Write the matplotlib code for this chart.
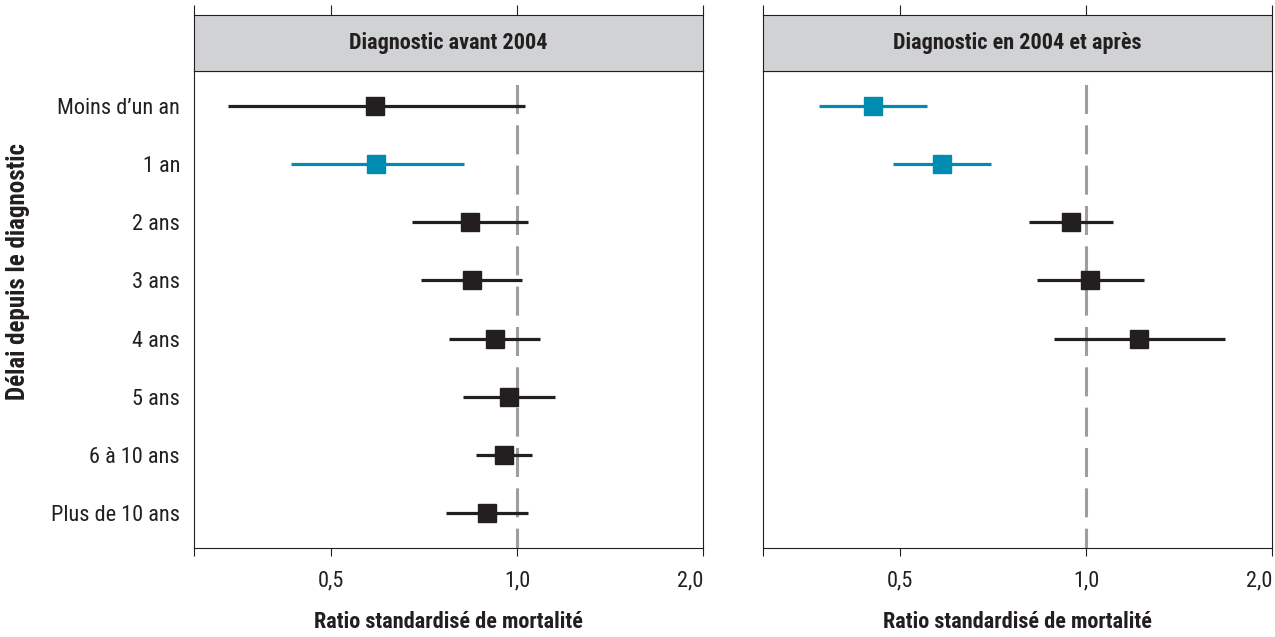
import matplotlib
matplotlib.use("Agg")
import matplotlib.pyplot as plt
from matplotlib import font_manager
from matplotlib.ticker import NullLocator, FixedLocator, FixedFormatter

# prefer a narrow face, like the original chart
names = {f.name for f in font_manager.fontManager.ttflist}
narrow = [n for n in ['Liberation Sans Narrow', 'DejaVu Sans Condensed', 'Roboto Condensed']
          if n in names]
plt.rcParams['font.family'] = narrow + ['DejaVu Sans']
if not narrow:
    plt.rcParams['font.stretch'] = 'condensed'

# data
categories = ["Moins d\u2019un an", "1 an", "2 ans", "3 ans", "4 ans",
              "5 ans", "6 \u00e0 10 ans", "Plus de 10 ans"]

before_rsm = [0.590, 0.592, 0.839, 0.845, 0.921, 0.970, 0.952, 0.894]
before_low = [0.340, 0.430, 0.677, 0.699, 0.777, 0.817, 0.857, 0.767]
before_high = [1.031, 0.822, 1.041, 1.020, 1.090, 1.151, 1.059, 1.040]

after_rsm = [0.452, 0.585, 0.945, 1.014, 1.217]
after_low = [0.370, 0.487, 0.809, 0.834, 0.886]
after_high = [0.553, 0.701, 1.106, 1.240, 1.677]

panel_titles = ["Diagnostic avant 2004", "Diagnostic en 2004 et apr\u00e8s"]
tick_values = [0.3, 0.5, 1.0, 2.0]
tick_labels = ["", "0,5", "1,0", "2,0"]

BLACK = "#231f20"
BLUE = "#008bb0"
STRIP = "#d1d2d4"
REF = "#9d9ea2"

fs = 16 if narrow else 14

fig = plt.figure(figsize=(12.75, 6.37), dpi=100)

W, H = 1275, 637
panels_x = [194, 763]
pw = 509
top_strip, top_main, bottom_main = 15, 71, 548

datasets = [(before_rsm, before_low, before_high),
            (after_rsm, after_low, after_high)]

for k in range(2):
    x0 = panels_x[k] / W
    ax = fig.add_axes([x0, (H - bottom_main) / H, pw / W, (bottom_main - top_main) / H])
    sx = fig.add_axes([x0, (H - top_main) / H, pw / W, (top_main - top_strip) / H])

    rsm, low, high = datasets[k]
    ypos = list(range(len(rsm)))
    for i in ypos:
        c = BLUE if high[i] < 1.0 else BLACK
        ax.hlines(i, low[i], high[i], color=c, lw=2.3, zorder=3)
        ax.plot(rsm[i], i, marker='s', ms=13.5, color=c, mec=c, zorder=4)

    ax.axvline(1.0, ymin=0, ymax=0.985, color=REF, lw=2.2,
               linestyle=(3, (9.5, 3.7)), zorder=2)

    for a in (ax, sx):
        a.set_xscale('log')
        a.set_xlim(0.3, 2.0)
        a.xaxis.set_minor_locator(NullLocator())
        a.xaxis.set_major_locator(FixedLocator(tick_values))
        for s in a.spines.values():
            s.set_linewidth(0.8)
            s.set_color(BLACK)

    ax.xaxis.set_major_formatter(FixedFormatter(tick_labels))
    ax.set_ylim(len(categories) - 0.4, -0.6)
    ax.set_yticks(range(len(categories)))
    if k == 0:
        ax.set_yticklabels(categories)
    else:
        ax.set_yticklabels([])
    ax.tick_params(axis='y', length=0, pad=10, labelsize=fs, labelcolor=BLACK)
    ax.tick_params(axis='x', direction='out', length=6, width=0.8, pad=10,
                   labelsize=fs, labelcolor=BLACK, color=BLACK)
    # last label sits flush right with the panel edge
    ax.get_xticklabels()[-1].set_horizontalalignment('right')
    ax.set_xlabel("Ratio standardis\u00e9 de mortalit\u00e9", fontsize=fs,
                  fontweight='bold', labelpad=14, color=BLACK)

    sx.set_facecolor(STRIP)
    sx.set_yticks([])
    sx.tick_params(axis='x', bottom=False, labelbottom=False, top=True,
                   labeltop=False, direction='out', length=7, width=0.8,
                   color=BLACK)
    sx.text(0.5, 0.5, panel_titles[k], transform=sx.transAxes, ha='center',
            va='center', fontsize=fs, fontweight='bold', color=BLACK)

fig.text(18 / W, (H - 272) / H, "D\u00e9lai depuis le diagnostic", rotation=90,
         ha='center', va='center', fontsize=fs + 2, fontweight='bold', color=BLACK)

fig.savefig("out.png", dpi=100)
